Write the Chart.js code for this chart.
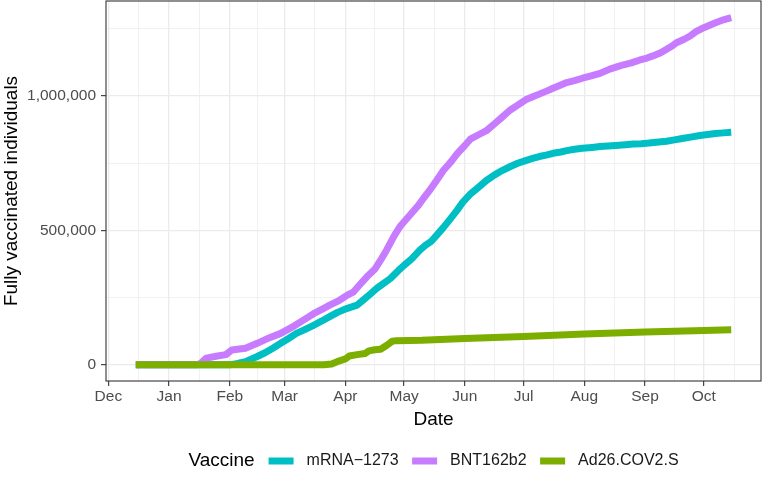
<!DOCTYPE html>
<html>
<head>
<meta charset="utf-8">
<title>Fully vaccinated individuals by vaccine</title>
<script src="https://cdn.jsdelivr.net/npm/chart.js@4.4.0/dist/chart.umd.min.js"></script>
<style>
  html, body { margin: 0; padding: 0; background: #ffffff; }
  #wrap { width: 762px; height: 483px; }
</style>
</head>
<body>
<div id="wrap"><canvas id="chart" width="762" height="483"></canvas></div>
<script>
const FONT = "'Liberation Sans', Arial, Helvetica, sans-serif";

// x positions are days since 2020-12-01
const monthLabels = ['Dec', 'Jan', 'Feb', 'Mar', 'Apr', 'May', 'Jun', 'Jul', 'Aug', 'Sep', 'Oct'];
const monthStarts = [0, 31, 62, 90, 121, 151, 182, 212, 243, 274, 304];
const nextMonthStart = 335; // Nov 1, only used for the last minor grid line

const yBreaks = [0, 500000, 1000000];
const yMinorBreaks = [250000, 750000, 1250000];

const vaccines = ['mRNA−1273', 'BNT162b2', 'Ad26.COV2.S'];
const vaccineColors = ['#00BFC4', '#C77CFF', '#7CAE00'];

const mrnaDays = [14, 62, 66, 70, 76, 80, 84, 88, 92, 96, 100, 105, 109, 113, 117, 122, 127, 130, 134, 137,
  140, 144, 148, 151, 155, 159, 162, 165, 168, 171, 174, 178, 181, 185, 189, 193, 197, 201, 205, 209,
  213, 217, 220, 224, 227, 231, 234, 238, 242, 247, 251, 255, 259, 264, 268, 272, 276, 281, 285, 289,
  293, 298, 302, 306, 310, 314, 318];
const mrnaFull = [0, 0, 5000, 12000, 31000, 45000, 62000, 80000, 98000, 117000, 130000, 148000, 163000, 179000, 195000, 210000, 222000, 240000, 265000, 284000,
  300000, 321000, 350000, 370000, 395000, 426000, 445000, 460000, 485000, 510000, 537000, 574000, 605000, 636000, 660000, 685000, 705000, 722000, 736000, 749000,
  759000, 768000, 774000, 780000, 786000, 791000, 796000, 801000, 805000, 808000, 811000, 813000, 815000, 818000, 821000, 822000, 824000, 828000, 831000, 836000,
  841000, 847000, 852000, 856000, 860000, 862000, 864000];

const bntDays = [14, 45, 47, 50, 55, 60, 63, 70, 76, 82, 88, 95, 100, 105, 110, 113, 118, 122, 125, 128,
  132, 136, 139, 142, 146, 149, 152, 155, 158, 161, 164, 168, 171, 175, 178, 182, 185, 189, 193, 198,
  201, 205, 209, 213, 217, 220, 224, 227, 231, 234, 238, 242, 246, 251, 256, 260, 263, 267, 271, 275,
  278, 282, 285, 288, 290, 294, 297, 300, 304, 307, 310, 314, 318];
const bntFull = [0, 0, 5000, 25000, 32000, 38000, 55000, 62000, 80000, 100000, 117000, 145000, 168000, 191000, 210000, 222000, 240000, 259000, 270000, 295000,
  327000, 355000, 389000, 426000, 480000, 515000, 540000, 565000, 590000, 620000, 648000, 690000, 722000, 755000, 784000, 815000, 840000, 855000, 870000, 901000,
  920000, 946000, 965000, 985000, 997000, 1006000, 1018000, 1028000, 1040000, 1049000, 1056000, 1065000, 1073000, 1083000, 1099000, 1108000, 1115000, 1122000, 1132000, 1140000,
  1148000, 1160000, 1173000, 1186000, 1197000, 1210000, 1222000, 1238000, 1253000, 1262000, 1271000, 1282000, 1290000];

const adDays = [14, 110, 114, 118, 121, 123, 127, 131, 133, 136, 139, 142, 145, 147, 160, 182, 212, 243, 274, 304, 318];
const adFull = [0, 0, 3000, 15000, 22000, 33000, 38000, 42000, 52000, 56000, 58000, 72000, 88000, 90000, 91000, 98000, 105000, 115000, 122000, 128000, 130000];

const seriesDays = [mrnaDays, bntDays, adDays];
const seriesValues = [mrnaFull, bntFull, adFull];

function toPoints(days, values) {
    return days.map((d, i) => ({ x: d, y: values[i] }));
}

// ggplot minor breaks sit halfway between the major ones
function withMinor(majors, minors) {
    const ticks = majors.map(v => ({ value: v, minor: false }));
    minors.forEach(v => ticks.push({ value: v, minor: true }));
    return ticks.sort((a, b) => a.value - b.value);
}

const xMinor = [];
const allStarts = monthStarts.concat([nextMonthStart]);
for (let i = 0; i < allStarts.length - 1; i++) {
    xMinor.push((allStarts[i] + allStarts[i + 1]) / 2);
}

const gridOptions = {
    color: '#EBEBEB',
    lineWidth: ctx => (ctx.tick && ctx.tick.minor ? 0.7 : 1.3),
    tickColor: ctx => (ctx.tick && ctx.tick.minor ? 'rgba(0,0,0,0)' : '#333333'),
    tickWidth: 1.1,
    tickLength: 5,
    drawTicks: true
};

const panelBorder = {
    id: 'panelBorder',
    afterDatasetsDraw(chart) {
        const { ctx, chartArea } = chart;
        ctx.save();
        ctx.strokeStyle = '#333333';
        ctx.lineWidth = 1.1;
        ctx.strokeRect(chartArea.left, chartArea.top, chartArea.right - chartArea.left, chartArea.bottom - chartArea.top);
        ctx.restore();
    }
};

// legend in the ggplot style: title on the left, keys in one row
const vaccineLegend = {
    id: 'vaccineLegend',
    afterDraw(chart) {
        const { ctx, chartArea } = chart;
        const y = chart.height - 22;
        const keyW = 25, gapTitle = 14, gapKey = 13, gapItem = 13.5;

        ctx.save();
        ctx.textBaseline = 'middle';
        ctx.textAlign = 'left';
        ctx.font = '19px ' + FONT;
        const titleW = ctx.measureText('Vaccine').width;
        ctx.font = '16px ' + FONT;
        const labelWs = vaccines.map(v => ctx.measureText(v).width);

        const total = titleW + gapTitle
            + labelWs.reduce((s, w) => s + keyW + gapKey + w, 0)
            + gapItem * (vaccines.length - 1);
        let x = (chartArea.left + chartArea.right) / 2 - total / 2;

        ctx.fillStyle = '#000000';
        ctx.font = '19px ' + FONT;
        ctx.fillText('Vaccine', x, y);
        x += titleW + gapTitle;

        ctx.font = '16px ' + FONT;
        vaccines.forEach((name, i) => {
            ctx.strokeStyle = vaccineColors[i];
            ctx.lineWidth = 7;
            ctx.lineCap = 'butt';
            ctx.beginPath();
            ctx.moveTo(x, y);
            ctx.lineTo(x + keyW, y);
            ctx.stroke();
            x += keyW + gapKey;
            ctx.fillStyle = '#1A1A1A';
            ctx.fillText(name, x, y);
            x += labelWs[i] + gapItem;
        });
        ctx.restore();
    }
};

const datasets = vaccines.map((name, i) => ({
    label: name,
    data: toPoints(seriesDays[i], seriesValues[i]),
    borderColor: vaccineColors[i],
    backgroundColor: vaccineColors[i],
    borderWidth: 7,
    borderCapStyle: 'butt',
    borderJoinStyle: 'round',
    pointRadius: 0,
    tension: 0,
    fill: false,
    order: vaccines.length - i // last vaccine drawn on top
}));

new Chart(document.getElementById('chart'), {
    type: 'line',
    data: { datasets },
    options: {
        responsive: false,
        animation: false,
        events: [],
        layout: { padding: { left: 0, right: 1, top: 1, bottom: 45 } },
        plugins: {
            legend: { display: false },
            tooltip: { enabled: false }
        },
        scales: {
            x: {
                type: 'linear',
                min: -1.2,
                max: 333.2,
                afterBuildTicks: scale => { scale.ticks = withMinor(monthStarts, xMinor); },
                afterFit: scale => {
                    scale.height = 57;
                    scale.paddingLeft = 0;
                    scale.paddingRight = 0;
                },
                grid: gridOptions,
                border: { display: false },
                ticks: {
                    autoSkip: false,
                    maxRotation: 0,
                    padding: 1,
                    color: '#4D4D4D',
                    font: { family: FONT, size: 15.5 },
                    callback: v => {
                        const i = monthStarts.indexOf(v);
                        return i >= 0 ? monthLabels[i] : '';
                    }
                },
                title: {
                    display: true,
                    text: 'Date',
                    color: '#000000',
                    font: { family: FONT, size: 19 },
                    padding: { top: 0, bottom: 7 }
                }
            },
            y: {
                type: 'linear',
                min: -60000,
                max: 1352000,
                afterBuildTicks: scale => { scale.ticks = withMinor(yBreaks, yMinorBreaks); },
                afterFit: scale => {
                    scale.width = 106;
                    scale.paddingTop = 0;
                    scale.paddingBottom = 0;
                },
                grid: gridOptions,
                border: { display: false },
                ticks: {
                    autoSkip: false,
                    padding: 5,
                    color: '#4D4D4D',
                    font: { family: FONT, size: 15.5 },
                    callback: v => (yBreaks.includes(v) ? v.toLocaleString('en-US') : '')
                },
                title: {
                    display: true,
                    text: 'Fully vaccinated individuals',
                    color: '#000000',
                    font: { family: FONT, size: 19 },
                    padding: { top: 0, bottom: 0 }
                }
            }
        }
    },
    plugins: [panelBorder, vaccineLegend]
});
</script>
</body>
</html>
